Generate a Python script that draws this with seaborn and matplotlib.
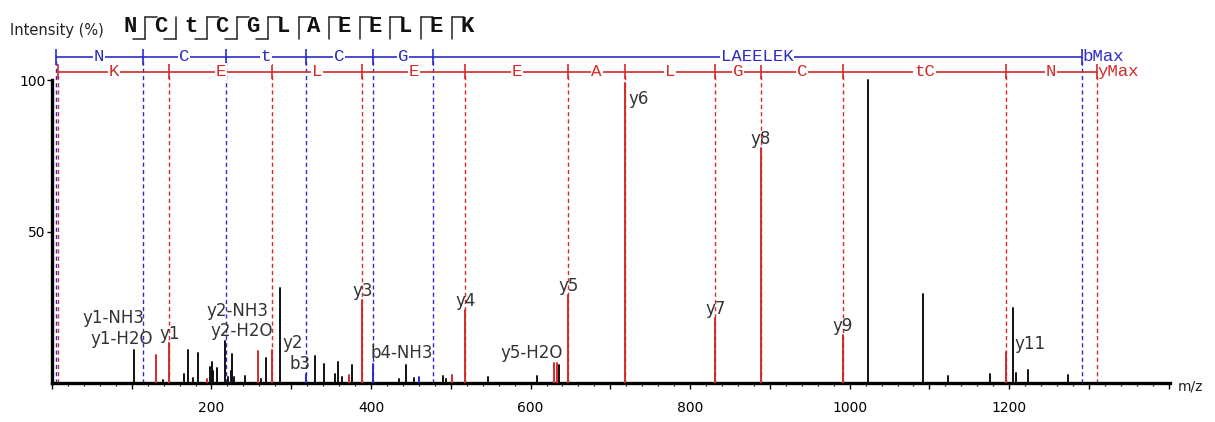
import numpy as np
import pandas as pd
import seaborn as sns
import matplotlib
matplotlib.use("Agg")
import matplotlib.pyplot as plt
from matplotlib.lines import Line2D
from matplotlib.ticker import MultipleLocator, FuncFormatter

# ---------------- data ----------------
sequence = ["N", "C", "t", "C", "G", "L", "A", "E", "E", "L", "E", "K"]
# fragment marks between residues: b-ion (bottom-left hook), y-ion (top-right hook)
b_marks = [True, True, True, True, True, False, False, False, False, False, False]
y_marks = [True, False, True, True, True, True, True, True, True, True, True]

# ion ladders (m/z of rungs) and residue labels between rungs
b_ladder_mz = [4.7, 113.8, 217.8, 318.1, 402.1, 477.3, 1291.0]
b_ladder_text = ["N", "C", "t", "C", "G", "LAEELEK"]
y_ladder_mz = [8.0, 147.1, 276.2, 389.2, 518.3, 647.3, 718.4, 831.5, 888.5, 991.5, 1195.6, 1309.6]
y_ladder_text = ["K", "E", "L", "E", "E", "A", "L", "G", "C", "tC", "N"]

# unannotated peaks (black)
other_mz = [103.3, 139.6, 166.0, 171.0, 177.0, 183.5, 198.0, 200.2, 202.3, 206.5,
            217.0, 220.3, 224.0, 226.0, 228.0, 242.0, 262.0, 268.0, 286.0, 329.5,
            340.5, 355.0, 358.0, 364.0, 375.7, 435.4, 443.5, 454.0, 489.8, 493.6,
            547.0, 608.4, 636.0, 1023.4, 1092.4, 1123.7, 1176.0, 1204.4, 1208.5,
            1223.2, 1274.0]
other_int = [11.0, 1.0, 3.0, 11.0, 1.7, 10.0, 5.4, 7.0, 4.0, 5.0,
             14.0, 2.0, 4.0, 9.6, 2.0, 2.4, 1.5, 8.3, 31.5, 9.0,
             6.5, 3.0, 7.0, 2.0, 6.0, 1.5, 6.0, 1.8, 2.4, 1.5,
             2.0, 2.4, 6.0, 100.0, 29.6, 2.3, 3.0, 25.0, 3.4,
             4.5, 2.6]

# y-ion related peaks (red)
yion_mz = [130.1, 147.1, 194.0, 258.3, 276.2, 372.2, 389.2, 501.2, 518.3, 629.3,
           633.0, 647.3, 718.4, 831.5, 888.5, 991.5, 1195.6]
yion_int = [9.3, 13.2, 1.5, 10.6, 11.0, 2.7, 27.5, 2.7, 24.2, 6.6,
            6.6, 29.1, 99.0, 21.6, 77.7, 16.0, 10.4]

# b-ion related peaks (blue)
bion_mz = [318.1, 402.8, 460.0]
bion_int = [3.0, 6.5, 2.0]

# peak annotations
label_text = ["y1-NH3", "y1-H2O", "y1", "y2-NH3", "y2-H2O", "y2", "b3", "y3", "b4-NH3",
              "y4", "y5-H2O", "y5", "y6", "y7", "y8", "y9", "y11"]
label_mz = [130.1, 130.1, 147.1, 258.3, 258.3, 276.2, 318.1, 389.2, 402.8,
            518.3, 629.3, 647.3, 718.4, 831.5, 888.5, 991.5, 1195.6]
label_int = [9.3, 9.3, 13.2, 10.6, 10.6, 11.0, 3.0, 27.5, 6.5,
             24.2, 6.6, 29.1, 99.0, 21.6, 77.7, 16.0, 10.4]

x_tick_labels = ["200", "400", "600", "800", "1000", "1200"]
y_tick_labels = ["50", "100"]

# ---------------- styles ----------------
RED = "#d42b2b"
BLUE = "#2c2cc8"
BLACK = "#111111"
TXT = "#333333"
# label offsets in pixels (dx, dy, ha, va)
label_style = [(-11, 28, "right", "bottom"), (-3, 7, "right", "bottom"), (0, 0, "center", "bottom"),
               (10, 31, "right", "bottom"), (15, 11, "right", "bottom"), (10, -2, "left", "bottom"),
               (-6, 1, "center", "bottom"), (0, 0, "center", "bottom"), (-3, 2, "left", "bottom"),
               (0, 0, "center", "bottom"), (9, 1, "right", "bottom"), (0, 0, "center", "bottom"),
               (3, -7, "left", "top"), (0, 0, "center", "bottom"), (0, 0, "center", "bottom"),
               (0, 0, "center", "bottom"), (9, -1, "left", "bottom")]

sns.set_theme(style="white")
plt.rcParams["font.family"] = ["DejaVu Sans"]

W, H = 1215, 422
fig = plt.figure(figsize=(W / 100, H / 100), dpi=100)
x0_px, px_per_mz = 51.95, 0.7977
y0_px, px_per_int = 383.3, 3.03
XMAX, YMAX = 1402, 112
ax = fig.add_axes([x0_px / W, (H - y0_px) / H, XMAX * px_per_mz / W, YMAX * px_per_int / H])
ax.set_xlim(0, XMAX)
ax.set_ylim(0, YMAX)

BLUE_Y, RED_Y = 107.8, 102.9

# ladder dashed guide lines
ax.vlines(b_ladder_mz, 0, BLUE_Y, colors=BLUE, linestyles=(0, (3, 2.2)), lw=1.0, zorder=1)
ax.vlines(y_ladder_mz, 0, RED_Y, colors=RED, linestyles=(0, (3, 2.2)), lw=1.0, zorder=1)

# spectrum sticks through seaborn
rows = []
pid = 0
for kind, mzs, ints in [("other", other_mz, other_int), ("y", yion_mz, yion_int), ("b", bion_mz, bion_int)]:
    for m, i in zip(mzs, ints):
        rows.append((pid, kind, m, 0.0))
        rows.append((pid, kind, m, i))
        pid += 1
df = pd.DataFrame(rows, columns=["pid", "kind", "mz", "intensity"])
sns.lineplot(data=df, x="mz", y="intensity", units="pid", estimator=None, hue="kind",
             palette={"other": BLACK, "y": RED, "b": BLUE}, sort=False, legend=False,
             lw=1.4, ax=ax, zorder=3)

# ladders
ax.hlines(BLUE_Y, b_ladder_mz[0], b_ladder_mz[-1], colors=BLUE, lw=1.2, zorder=2)
ax.hlines(RED_Y, y_ladder_mz[0], y_ladder_mz[-1], colors=RED, lw=1.2, zorder=2)
ax.vlines(b_ladder_mz, BLUE_Y - 2.6, BLUE_Y + 2.6, colors=BLUE, lw=1.2, zorder=2)
ax.vlines(y_ladder_mz, RED_Y - 2.4, RED_Y + 2.4, colors=RED, lw=1.2, zorder=2)
ladder_font = dict(family="Liberation Mono", size=12.5)
for i, t in enumerate(b_ladder_text):
    xm = (b_ladder_mz[i] + b_ladder_mz[i + 1]) / 2
    ax.text(xm, BLUE_Y, t, color=BLUE, ha="center", va="center", zorder=4,
            bbox=dict(facecolor="white", edgecolor="none", pad=0.6), **ladder_font)
for i, t in enumerate(y_ladder_text):
    xm = (y_ladder_mz[i] + y_ladder_mz[i + 1]) / 2
    ax.text(xm, RED_Y, t, color=RED, ha="center", va="center", zorder=4,
            bbox=dict(facecolor="white", edgecolor="none", pad=0.6), **ladder_font)
ax.text(b_ladder_mz[-1] + 1, BLUE_Y, "bMax", color=BLUE, ha="left", va="center", zorder=4, **ladder_font)
ax.text(y_ladder_mz[-1] + 1, RED_Y, "yMax", color=RED, ha="left", va="center", zorder=4, **ladder_font)

# peak labels
for t, m, i, (dx, dy, ha, va) in zip(label_text, label_mz, label_int, label_style):
    ax.annotate(t, xy=(m, i), xytext=(dx * 0.72, dy * 0.72), textcoords="offset points",
                ha=ha, va=va, fontsize=12, color=TXT, zorder=5)

# axes styling
for s in ["top", "right"]:
    ax.spines[s].set_visible(False)
ax.spines["left"].set_bounds(0, 100)
ax.spines["left"].set_linewidth(2.4)
ax.spines["bottom"].set_linewidth(2.4)
ax.spines["left"].set_color("black")
ax.spines["bottom"].set_color("black")
ax.xaxis.set_major_locator(MultipleLocator(100))
ax.xaxis.set_minor_locator(MultipleLocator(20))
ax.xaxis.set_major_formatter(FuncFormatter(
    lambda v, p: x_tick_labels[[200, 400, 600, 800, 1000, 1200].index(int(round(v)))]
    if int(round(v)) in [200, 400, 600, 800, 1000, 1200] else ""))
ax.set_yticks([50, 100])
ax.set_yticklabels(y_tick_labels)
ax.tick_params(axis="x", which="major", direction="out", length=4.5, width=1.0, pad=8,
               labelsize=10, colors="black", bottom=True)
ax.tick_params(axis="x", which="minor", direction="out", length=2.2, width=0.9, bottom=True)
ax.tick_params(axis="y", which="major", direction="out", length=3.5, width=1.0, pad=1,
               labelsize=10, colors="black", left=True)
ax.set_xlabel("")
ax.set_ylabel("")
ax.grid(False)

fig.text(1178 / W, 1 - 386 / H, "m/z", ha="left", va="center", fontsize=10, color="#222222")
fig.text(10 / W, 1 - 30 / H, "Intensity (%)", ha="left", va="center", fontsize=10.5, color="#222222")

# sequence header with fragment marks
x_first, step = 130.0, 30.64
for k, aa in enumerate(sequence):
    fig.text((x_first + k * step) / W, 1 - 27 / H, aa, ha="center", va="center",
             family="Liberation Mono", weight="bold", fontsize=16, color="#111111")
top_px, bot_px, hook = 17, 39, 12
for k in range(len(sequence) - 1):
    xm = x_first + (k + 0.5) * step
    fig.add_artist(Line2D([xm / W, xm / W], [1 - top_px / H, 1 - bot_px / H], color="#222222", lw=1.1))
    if y_marks[k]:
        fig.add_artist(Line2D([xm / W, (xm + hook) / W], [1 - top_px / H] * 2, color="#222222", lw=1.1))
    if b_marks[k]:
        fig.add_artist(Line2D([(xm - hook) / W, xm / W], [1 - bot_px / H] * 2, color="#222222", lw=1.1))

fig.savefig("out.png", dpi=100)
